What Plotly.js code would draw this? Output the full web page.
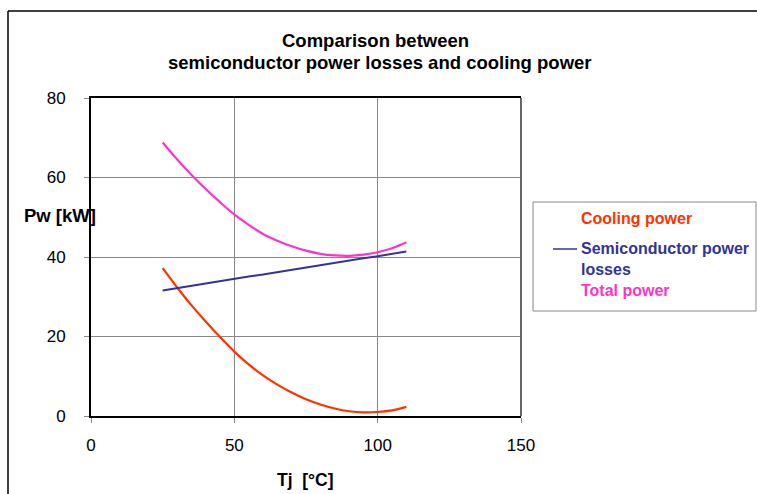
<!DOCTYPE html>
<html>
<head>
<meta charset="utf-8">
<script src="https://cdn.plot.ly/plotly-3.0.1.min.js"></script>
<style>html,body{margin:0;padding:0;background:#fff;}#chart{width:757px;height:494px;}</style>
</head>
<body>
<div id="chart"></div>
<script>
// Junction temperature Tj [°C]
const tj = [25, 30, 35, 40, 45, 50, 55, 60, 65, 70, 75, 80, 85, 90, 95, 100, 105, 110];
// Cooling power [kW]
const coolingPower = [37.2, 32.4, 27.9, 23.8, 19.9, 16.2, 13.0, 10.2, 7.9, 5.9, 4.2, 2.9, 1.9, 1.2, 0.9, 1.0, 1.4, 2.3];
// Semiconductor power losses [kW]
const semiLosses = [31.6, 32.2, 32.8, 33.3, 33.9, 34.5, 35.1, 35.6, 36.2, 36.8, 37.4, 37.9, 38.5, 39.1, 39.7, 40.2, 40.8, 41.4];
// Total power [kW]
const totalPower = [68.8, 64.6, 60.7, 57.1, 53.8, 50.7, 48.1, 45.8, 44.1, 42.7, 41.6, 40.8, 40.4, 40.3, 40.6, 41.2, 42.2, 43.7];

const xTicks = [0, 50, 100, 150];
const yTicks = [0, 20, 40, 60, 80];
const seriesNames = ['Cooling power', 'Semiconductor power<br>losses', 'Total power'];

const cRed = '#FF3300', cBlue = '#333399', cMag = '#FF33CC';
const FONT = 'Liberation Sans, Arial, sans-serif';

const traces = [
  {x: tj, y: coolingPower, type: 'scatter', mode: 'lines', line: {color: cRed, width: 2.2, shape: 'spline', smoothing: 1}, name: 'Cooling power'},
  {x: tj, y: semiLosses, type: 'scatter', mode: 'lines', line: {color: cBlue, width: 2}, name: 'Semiconductor power losses'},
  {x: tj, y: totalPower, type: 'scatter', mode: 'lines', line: {color: cMag, width: 2.2, shape: 'spline', smoothing: 1}, name: 'Total power'}
];

// px -> paper helpers
const L = 91, R = 521, T = 98, B = 416;
const px = v => (v - L) / (R - L);
const py = v => (B - v) / (B - T);

const layout = {
  width: 757, height: 494,
  margin: {l: L, r: 757 - R, t: T, b: 494 - B, pad: 0},
  paper_bgcolor: '#fff', plot_bgcolor: '#fff',
  showlegend: false,
  font: {family: FONT, size: 15, color: '#000'},
  xaxis: {
    range: [0, 150], tickvals: xTicks, ticktext: xTicks.map(String),
    showgrid: true, gridcolor: '#888', gridwidth: 1,
    zeroline: false, showline: true, linecolor: '#000', linewidth: 2, mirror: true,
    ticks: 'outside', ticklen: 5, tickcolor: '#888', ticklabelstandoff: 8,
    tickfont: {family: FONT, size: 17, color: '#000'}, fixedrange: true
  },
  yaxis: {
    range: [0, 80], tickvals: yTicks, ticktext: yTicks.map(String),
    showgrid: true, gridcolor: '#888', gridwidth: 1,
    zeroline: false, showline: true, linecolor: '#000', linewidth: 2,
    ticks: 'outside', ticklen: 5, tickcolor: '#888', ticklabelstandoff: 15,
    tickfont: {family: FONT, size: 17, color: '#000'}, fixedrange: true
  },
  shapes: [
    // right plot border (grey)
    {type: 'line', xref: 'paper', yref: 'paper', x0: 1, x1: 1, y0: 0, y1: 1, line: {color: '#666', width: 2}},
    // outer chart frame
    {type: 'line', xref: 'paper', yref: 'paper', x0: px(8), x1: px(760), y0: py(11), y1: py(11), line: {color: '#000', width: 1.5}},
    {type: 'line', xref: 'paper', yref: 'paper', x0: px(8), x1: px(8), y0: py(11), y1: py(500), line: {color: '#000', width: 1.5}},
    // legend box
    {type: 'rect', xref: 'paper', yref: 'paper', x0: px(533), x1: px(756), y0: py(311), y1: py(202), line: {color: '#888', width: 1}, fillcolor: 'rgba(0,0,0,0)'},
    // legend symbol for semiconductor losses
    {type: 'line', xref: 'paper', yref: 'paper', x0: px(553), x1: px(577), y0: py(249), y1: py(249), line: {color: cBlue, width: 1.5}}
  ],
  annotations: [
    {text: '<b>Comparison between</b>', xref: 'paper', yref: 'paper', x: px(375), y: py(40), xanchor: 'center', yanchor: 'middle', showarrow: false, font: {family: FONT, size: 18.5, color: '#000'}},
    {text: '<b>semiconductor power losses and cooling power</b>', xref: 'paper', yref: 'paper', x: px(380), y: py(62), xanchor: 'center', yanchor: 'middle', showarrow: false, font: {family: FONT, size: 18.5, color: '#000'}},
    {text: '<b>Pw [kW]</b>', xref: 'paper', yref: 'paper', x: px(60), y: py(215), xanchor: 'center', yanchor: 'middle', showarrow: false, font: {family: FONT, size: 18.5, color: '#000'}},
    {text: '<b>Tj  [°C]</b>', xref: 'paper', yref: 'paper', x: px(305), y: py(480), xanchor: 'center', yanchor: 'middle', showarrow: false, font: {family: FONT, size: 17.5, color: '#000'}},
    {text: '<b>' + seriesNames[0] + '</b>', xref: 'paper', yref: 'paper', x: px(579), y: py(218), xanchor: 'left', yanchor: 'middle', showarrow: false, font: {family: FONT, size: 16, color: cRed}},
    {text: '<b>' + seriesNames[1] + '</b>', xref: 'paper', yref: 'paper', x: px(579), y: py(259), xanchor: 'left', yanchor: 'middle', align: 'left', showarrow: false, font: {family: FONT, size: 16, color: cBlue}},
    {text: '<b>' + seriesNames[2] + '</b>', xref: 'paper', yref: 'paper', x: px(579), y: py(290), xanchor: 'left', yanchor: 'middle', showarrow: false, font: {family: FONT, size: 16, color: cMag}}
  ]
};

Plotly.newPlot('chart', traces, layout, {displayModeBar: false, staticPlot: true});
</script>
</body>
</html>
